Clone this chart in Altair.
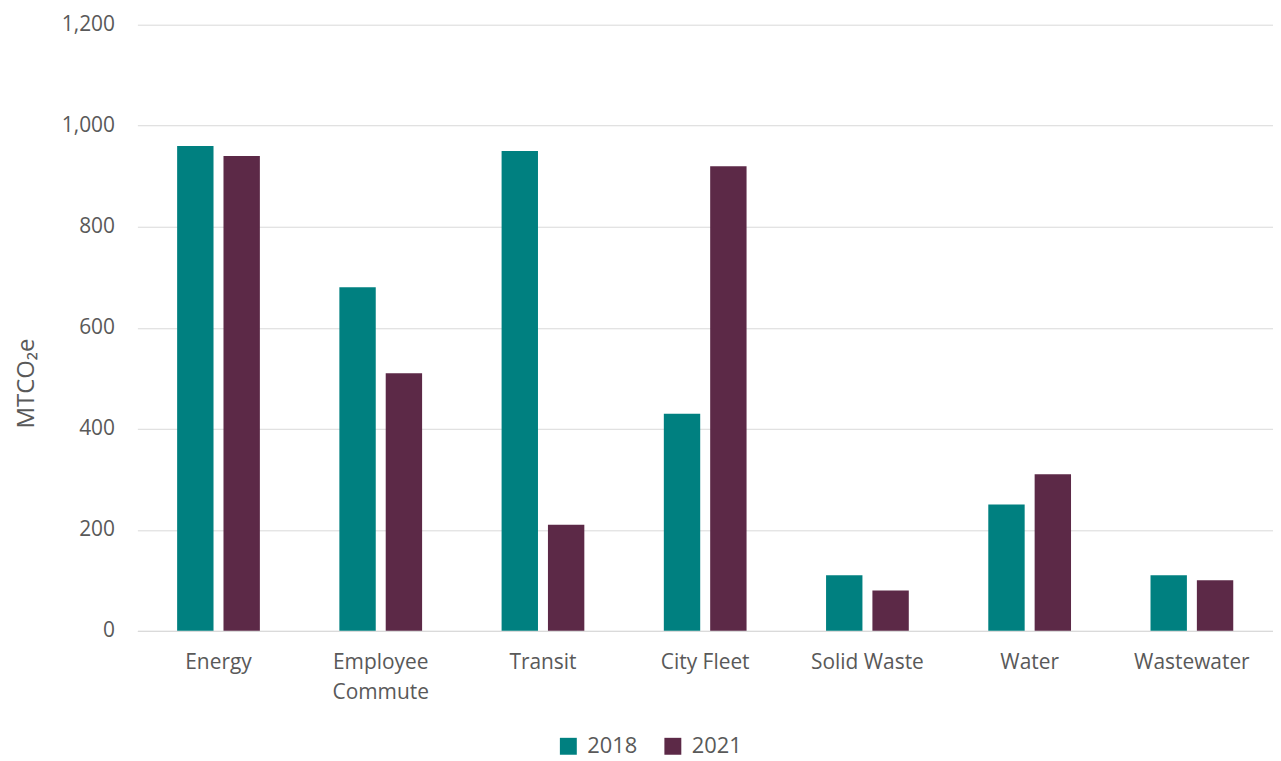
import altair as alt
import pandas as pd

categories = ["Energy", "Employee Commute", "Transit", "City Fleet", "Solid Waste", "Water", "Wastewater"]
years = ["2018", "2021"]
v2018 = [960, 680, 950, 430, 110, 250, 110]
v2021 = [940, 510, 210, 920, 80, 310, 100]
y_ticks = [0, 200, 400, 600, 800, 1000, 1200]
colors = ["#008080", "#5C2947"]

rows = []
for c, a, b in zip(categories, v2018, v2021):
    rows.append({"category": c, "year": "2018", "value": a})
    rows.append({"category": c, "year": "2021", "value": b})
df = pd.DataFrame(rows)

FONT = "Open Sans"
GRAY = "#595959"

chart = alt.Chart(df).mark_bar().encode(
    x=alt.X(
        "category:N",
        sort=categories,
        scale=alt.Scale(paddingInner=0.49, paddingOuter=0.245),
        axis=alt.Axis(
            title=None,
            labelAngle=0,
            ticks=False,
            tickSize=0,
            domainColor="#d9d9d9",
            domainWidth=1,
            labelFontSize=21,
            labelFont=FONT,
            labelColor=GRAY,
            labelPadding=21,
            labelBaseline="top",
            labelLineHeight=30,
            labelExpr="datum.value == 'Employee Commute' ? ['Employee', 'Commute'] : datum.value",
        ),
    ),
    xOffset=alt.XOffset("year:N", sort=years, scale=alt.Scale(paddingInner=0.215, paddingOuter=0)),
    y=alt.Y(
        "value:Q",
        scale=alt.Scale(domain=[0, 1200], nice=False),
        axis=alt.Axis(
            values=y_ticks,
            format=",d",
            title="MTCO₂e",
            titleFont=FONT,
            titleFontSize=24,
            titleFontWeight="normal",
            titleColor=GRAY,
            titleAngle=-90,
            titleX=-111,
            titleY=360,
            titleAlign="center",
            titleBaseline="middle",
            grid=True,
            gridColor="#d9d9d9",
            gridWidth=1,
            domain=False,
            ticks=False,
            tickSize=0,
            labelPadding=23,
            labelFontSize=21,
            labelFont=FONT,
            labelColor=GRAY,
        ),
    ),
    color=alt.Color(
        "year:N",
        scale=alt.Scale(domain=years, range=colors),
        legend=alt.Legend(
            title=None,
            orient="none",
            direction="horizontal",
            legendX=422,
            legendY=714,
            symbolType="square",
            symbolSize=289,
            symbolStrokeWidth=0,
            symbolOpacity=1,
            labelFontSize=22,
            labelFont=FONT,
            labelColor=GRAY,
            labelOffset=8,
            columnPadding=24,
        ),
    ),
).properties(
    width=1141,
    height=609,
    autosize=alt.AutoSizeParams(type="none"),
    padding={"left": 130, "top": 15, "right": 0, "bottom": 128},
).configure_view(stroke=None)

chart.save("out.html", embed_options={"renderer": "svg", "actions": False})
